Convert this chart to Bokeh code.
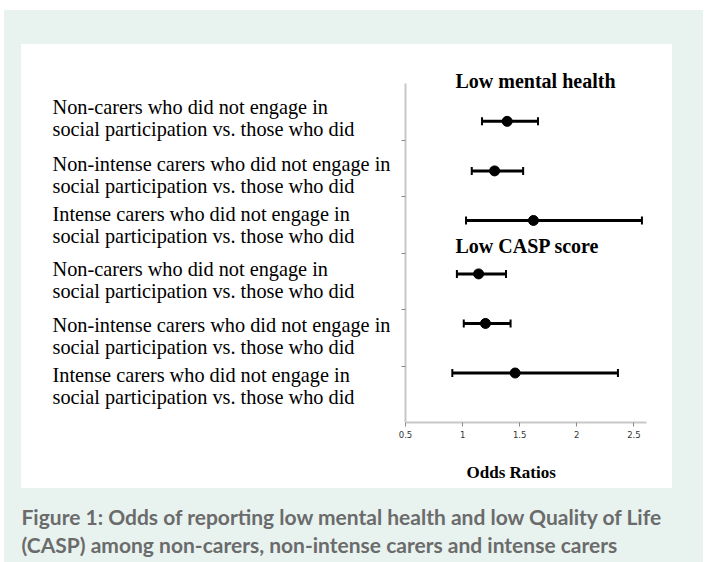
from bokeh.plotting import figure
from bokeh.models import Range1d, FixedTicker, Label, Whisker, TeeHead, ColumnDataSource, Spacer, Title
from bokeh.layouts import column, row
from bokeh.embed import file_html
from bokeh.resources import INLINE
from bokeh.core.properties import value

# ---------------- data ----------------
row_labels = [
    "Non-carers who did not engage in\nsocial participation vs. those who did",
    "Non-intense carers who did not engage in\nsocial participation vs. those who did",
    "Intense carers who did not engage in\nsocial participation vs. those who did",
    "Non-carers who did not engage in\nsocial participation vs. those who did",
    "Non-intense carers who did not engage in\nsocial participation vs. those who did",
    "Intense carers who did not engage in\nsocial participation vs. those who did",
]
group_titles = ["Low mental health", "Low CASP score"]
odds_ratio = [1.39, 1.28, 1.62, 1.14, 1.20, 1.46]
ci_low = [1.17, 1.08, 1.03, 0.95, 1.01, 0.91]
ci_high = [1.66, 1.53, 2.57, 1.38, 1.42, 2.36]
x_ticks = [0.5, 1, 1.5, 2, 2.5]
x_tick_labels = ["0.5", "1", "1.5", "2", "2.5"]
x_title = "Odds Ratios"
caption_lines = [
    "Figure 1: Odds of reporting low mental health and low Quality of Life",
    "(CASP) among non-carers, non-intense carers and intense carers",
]

# ---------------- layout constants ----------------
TEAL = "#e8f3f0"
TEAL_X0, TEAL_Y0 = 4, 10
TEAL_W = 699
PANEL_X0, PANEL_TOP = 21, 44
PANEL_W, PANEL_H = 651, 444
LEFT_W = 372                       # width of the row-label area
FRAME_LEFT, FRAME_TOP_PLOT = 405, 49
AXIS_TOP, FRAME_BOTTOM = 83, 422  # y = 6 at AXIS_TOP, y = 0 at FRAME_BOTTOM
PX_PER_ROW = (FRAME_BOTTOM - AXIS_TOP) / 6.0
SERIF = "Liberation Serif"
MID_SHIFT = 6.8                    # baseline -> text middle for 20px serif


def y_of(abs_px):
    return (FRAME_BOTTOM - abs_px) / PX_PER_ROW


n = len(odds_ratio)
per_group = 3
y_pos = [5.33 - 0.877 * (i % per_group) - 2.70 * (i // per_group) for i in range(n)]
src = ColumnDataSource(dict(x=odds_ratio, lo=ci_low, hi=ci_high, y=y_pos))

plot_w = PANEL_W - LEFT_W
MB_TOP = FRAME_TOP_PLOT - PANEL_TOP
MB_BOTTOM = PANEL_TOP + PANEL_H - FRAME_BOTTOM
p = figure(
    width=plot_w, height=PANEL_H, title=None,
    x_range=Range1d(0.5, 2.61), y_range=Range1d(0, y_of(FRAME_TOP_PLOT)),
    min_border_left=FRAME_LEFT - PANEL_X0 - LEFT_W, min_border_right=26,
    min_border_top=MB_TOP, min_border_bottom=MB_BOTTOM,
    toolbar_location=None, output_backend="svg",
    background_fill_color="white", border_fill_color="white",
    outline_line_color=None,
)
p.xgrid.visible = False
p.ygrid.visible = False

whisk = Whisker(
    source=src, base="y", lower="lo", upper="hi", dimension="width",
    line_color="black", line_width=3,
    lower_head=TeeHead(size=8, line_color="black", line_width=2),
    upper_head=TeeHead(size=8, line_color="black", line_width=2),
)
p.add_layout(whisk)
p.scatter("x", "y", source=src, size=10, color="black")

# axes
for ax in (p.xaxis[0], p.yaxis[0]):
    ax.axis_line_color = "#c8c8c8"
    ax.axis_line_width = 2
    ax.major_tick_line_color = "#8a8a8a"
    ax.major_tick_line_width = 1
    ax.major_tick_in = 0
    ax.major_tick_out = 4
    ax.minor_tick_line_color = None

p.xaxis.ticker = FixedTicker(ticks=x_ticks)
p.xaxis.major_label_overrides = {t: s for t, s in zip(x_ticks, x_tick_labels)}
p.xaxis.major_label_text_font = "DejaVu Sans"
p.xaxis.major_label_text_font_size = "8.5px"
p.xaxis.major_label_text_color = "#333333"
p.xaxis.major_label_standoff = 4

y_ticks = [1, 2, 3, 4, 5]
p.yaxis.ticker = FixedTicker(ticks=y_ticks)
p.yaxis.major_label_overrides = {t: "" for t in y_ticks}
p.yaxis.major_label_standoff = 0
p.yaxis.bounds = (0, 6)

# group titles (inside the frame, above each group)
title_baselines = [87.7, 252.7]
for t, b in zip(group_titles, title_baselines):
    p.add_layout(Label(
        x=0.5, y=y_of(b - MID_SHIFT), x_offset=50, text=t,
        text_font=SERIF, text_font_size="20px", text_font_style="bold",
        text_color="black", text_align="left", text_baseline="middle",
    ))

# x axis title: a blank spacer title, then the real one (stacked below the axis)
p.add_layout(Title(text=" ", text_font_size="10px", standoff=6), "below")
p.add_layout(Title(
    text=x_title, align="left", offset=61, standoff=2,
    text_font=SERIF, text_font_size="17px", text_font_style="bold",
    text_color="black",
), "below")

# row labels: separate figure left of the plot, y in page pixels
left = figure(
    width=LEFT_W, height=PANEL_H, title=None,
    x_range=Range1d(PANEL_X0, PANEL_X0 + LEFT_W),
    y_range=Range1d(FRAME_BOTTOM, FRAME_TOP_PLOT),
    x_axis_location=None, y_axis_location=None, toolbar_location=None,
    min_border_left=0, min_border_right=0,
    min_border_top=MB_TOP, min_border_bottom=MB_BOTTOM, output_backend="svg",
    background_fill_color="white", border_fill_color="white", outline_line_color=None,
)
left.xgrid.visible = False
left.ygrid.visible = False
first_baselines = [113.3, 170.0, 220.0]
lx, ly, lt = [], [], []
for i, lab in enumerate(row_labels):
    b0 = first_baselines[i % per_group] + 161.7 * (i // per_group)
    for k, line in enumerate(lab.split("\n")):
        lx.append(52)
        ly.append(b0 + 22 * k - MID_SHIFT)
        lt.append(line)
left.text(
    x=lx, y=ly, text=lt,
    text_font=value(SERIF), text_font_size="20.3px", text_color="black",
    text_align="left", text_baseline="middle",
)

# caption
CAP_TOP = PANEL_TOP + PANEL_H
CAP_H = 562 - CAP_TOP
cap = figure(
    width=TEAL_W, height=CAP_H, title=None,
    x_range=Range1d(TEAL_X0, TEAL_X0 + TEAL_W), y_range=Range1d(562, CAP_TOP),
    x_axis_location=None, y_axis_location=None, toolbar_location=None,
    min_border=0, output_backend="svg",
    background_fill_color=TEAL, border_fill_color=TEAL, outline_line_color=None,
)
cap.xgrid.visible = False
cap.ygrid.visible = False
cap_mid = [516, 544]
cap.text(
    x=[PANEL_X0] * 2, y=cap_mid, text=caption_lines,
    text_font=value("Lato"), text_font_style="bold", text_font_size="21px",
    text_color="#6b6b6b", text_baseline="middle", text_align="left",
)

inner = row(left, p, styles={"background-color": "white"})
panel_row = row(
    Spacer(width=PANEL_X0 - TEAL_X0, height=PANEL_H), inner,
    Spacer(width=TEAL_W - (PANEL_X0 - TEAL_X0) - PANEL_W, height=PANEL_H),
)
teal_block = column(Spacer(width=TEAL_W, height=PANEL_TOP - TEAL_Y0), panel_row, cap,
                    styles={"background-color": TEAL})
root = column(
    Spacer(width=TEAL_X0 + TEAL_W, height=TEAL_Y0),
    row(Spacer(width=TEAL_X0, height=10), teal_block),
)

open("out.html", "w").write(file_html(root, INLINE))
